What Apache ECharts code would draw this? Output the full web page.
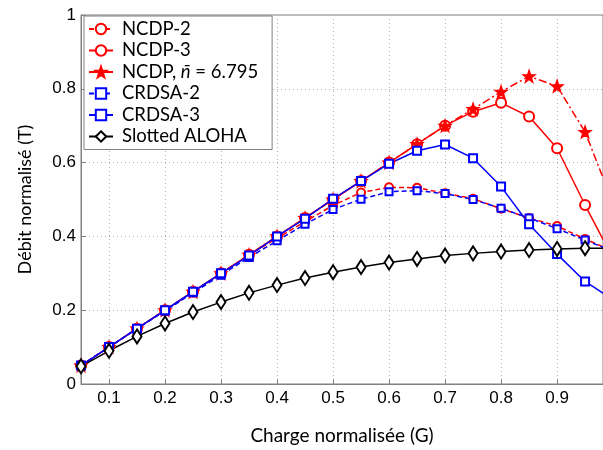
<!DOCTYPE html>
<html>
<head>
<meta charset="utf-8">
<script src="https://cdn.jsdelivr.net/npm/echarts@6/dist/echarts.min.js"></script>
<style>html,body{margin:0;padding:0;background:#fff}#c{width:603px;height:450px}</style>
</head>
<body>
<div id="c"></div>
<script>
const G = [0.05,0.10,0.15,0.20,0.25,0.30,0.35,0.40,0.45,0.50,0.55,0.60,0.65,0.70,0.75,0.80,0.85,0.90,0.95,1.00];
const ncdp2 = [0.05,0.10,0.15,0.20,0.25,0.30,0.35,0.395,0.44,0.484,0.519,0.533,0.532,0.517,0.502,0.475,0.450,0.428,0.393,0.36];
const ncdp3 = [0.05,0.10,0.15,0.20,0.25,0.30,0.35,0.40,0.45,0.50,0.55,0.60,0.65,0.70,0.738,0.762,0.725,0.639,0.485,0.34];
const ncdpN = [0.05,0.10,0.15,0.20,0.25,0.30,0.35,0.40,0.45,0.50,0.55,0.60,0.65,0.70,0.745,0.792,0.834,0.807,0.683,0.49];
const crdsa2 = [0.05,0.10,0.15,0.198,0.247,0.295,0.343,0.388,0.433,0.473,0.501,0.521,0.524,0.516,0.500,0.476,0.450,0.421,0.390,0.36];
const crdsa3 = [0.05,0.10,0.15,0.20,0.25,0.30,0.348,0.40,0.448,0.502,0.55,0.597,0.632,0.649,0.612,0.535,0.433,0.352,0.278,0.228];
const aloha = [0.048,0.090,0.129,0.164,0.195,0.222,0.247,0.268,0.287,0.303,0.317,0.329,0.339,0.348,0.354,0.359,0.363,0.366,0.368,0.368];
const xTicks = [0.1,0.2,0.3,0.4,0.5,0.6,0.7,0.8,0.9];
const names = ['NCDP-2','NCDP-3','NCDP, n = 6.795','CRDSA-2','CRDSA-3','Slotted ALOHA'];

const star = 'path://M0,-10 L2.35,-3.24 L9.51,-3.09 L3.8,1.24 L5.88,8.09 L0,4 L-5.88,8.09 L-3.8,1.24 L-9.51,-3.09 L-2.35,-3.24 Z';
const pair = ys => G.map((g,i)=>[g,ys[i]]);

function ser(name, ys, color, type, symbol, size){
  return {
    name, type:'line', data: pair(ys), symbol, symbolSize: size,
    showAllSymbol:true, clip:true,
    lineStyle:{color, width:1.5, type},
    itemStyle:{color: color, borderColor: color, borderWidth:1.3},
    emphasis:{disabled:true}, animation:false
  };
}

const chart = echarts.init(document.getElementById('c'));
chart.setOption({
  animation:false,
  grid:{left:81, right:0, top:15, bottom:59, show:true, borderColor:'#808080', borderWidth:1},
  legend:{
    orient:'vertical', left:84, top:16, padding:[3,14,3,4],
    backgroundColor:'#fff', borderColor:'#808080', borderWidth:1,
    itemWidth:24, itemHeight:13, itemGap:1.5,
    data: names,
    formatter: n => n === names[2] ? 'NCDP, {i|n̄} = 6.795' : n,
    textStyle:{fontFamily:'Lato', fontSize:18.5, lineHeight:20, color:'#000', padding:[0,0,0,4],
      rich:{i:{fontFamily:'Lato', fontStyle:'italic', fontSize:18.5, lineHeight:20, color:'#000'}}}
  },
  xAxis:{
    type:'value', min:0.05, max:0.982,
    name:'Charge normalisée (G)', nameLocation:'middle', nameGap:42,
    nameTextStyle:{fontFamily:'Lato', fontSize:19, color:'#000'},
    axisLine:{onZero:false, lineStyle:{color:'#808080'}},
    axisTick:{inside:true, length:5, customValues:xTicks, lineStyle:{color:'#808080'}},
    axisLabel:{customValues:xTicks, fontFamily:'Liberation Sans', fontSize:17, color:'#000', margin:6,
      formatter: v => String(Math.round(v*10)/10)},
    splitLine:{show:true, lineStyle:{color:'#b0b0b0', type:[1,3], width:1}}
  },
  yAxis:{
    type:'value', min:0, max:1, interval:0.2,
    name:'Débit normalisé (T)', nameLocation:'middle', nameGap:47,
    nameTextStyle:{fontFamily:'Lato', fontSize:18, color:'#000'},
    axisLine:{show:true, lineStyle:{color:'#808080'}},
    axisTick:{show:true, inside:true, length:5, lineStyle:{color:'#808080'}},
    axisLabel:{fontFamily:'Liberation Sans', fontSize:17, color:'#000', margin:5,
      formatter: v => String(Math.round(v*10)/10)},
    splitLine:{show:true, lineStyle:{color:'#b0b0b0', type:[1,3], width:1}}
  },
  series:[
    ser(names[0], ncdp2, '#ff0000', [5,3], 'emptyCircle', 8),
    ser(names[1], ncdp3, '#ff0000', 'solid', 'emptyCircle', 10),
    ser(names[2], ncdpN, '#ff0000', [8,3,2,3], star, 12),
    ser(names[3], crdsa2, '#0000ff', [5,3], 'emptyRect', 7),
    ser(names[4], crdsa3, '#0000ff', 'solid', 'emptyRect', 8),
    ser(names[5], aloha, '#000000', 'solid', 'emptyDiamond', [9,14])
  ]
});
</script>
</body>
</html>
